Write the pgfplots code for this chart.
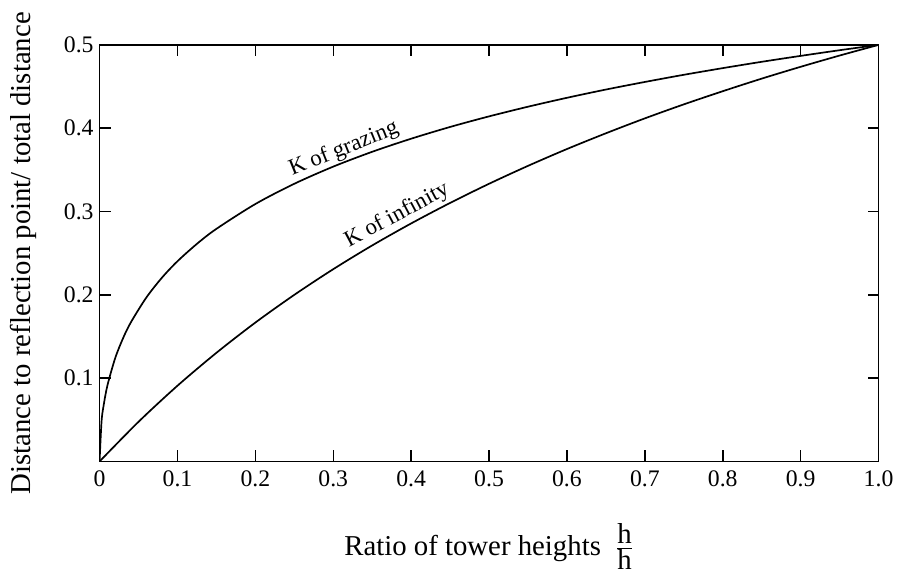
\documentclass[border=0pt]{standalone}
\usepackage{fontspec}
\setmainfont{Liberation Serif}
\usepackage{pgfplots}
\pgfplotsset{compat=1.18}
\begin{document}
\begin{tikzpicture}
\path (-58.8pt,-64.7pt) rectangle (469.4pt,272.5pt);
\begin{axis}[
  scale only axis, width=460pt, height=246pt,
  at={(0,0)}, anchor=south west,
  xmin=0, xmax=1, ymin=0, ymax=0.5,
  axis line style={line width=1pt},
  tick align=inside, major tick length=6.5pt,
  every tick/.style={line width=0.9pt, black},
  xtick={0,0.1,0.2,0.3,0.4,0.5,0.6,0.7,0.8,0.9,1.0},
  xticklabels={0,0.1,0.2,0.3,0.4,0.5,0.6,0.7,0.8,0.9,1.0},
  ytick={0.1,0.2,0.3,0.4,0.5},
  yticklabels={0.1,0.2,0.3,0.4,0.5},
  tick label style={font=\fontsize{14}{16}\selectfont},
  xticklabel style={yshift=-2pt},
  /pgf/number format/assume math mode=true,
  xlabel={Ratio of tower heights\ \ $\frac{\textrm{h}}{\textrm{h}}$},
  ylabel={Distance to reflection point/ total distance},
  label style={font=\fontsize{17}{20}\selectfont},
  xlabel style={yshift=-15pt},
  ylabel style={yshift=9pt},
]
% K of grazing
\addplot[black, line width=1pt, smooth] coordinates {
(0,0) (0.0025,0.0476) (0.005,0.0660) (0.01,0.0909) (0.02,0.1239) (0.03,0.1476)
(0.04,0.1667) (0.06,0.1967) (0.08,0.2205) (0.1,0.2403) (0.125,0.2612) (0.15,0.2792)
(0.2,0.3090) (0.25,0.3333) (0.3,0.3539) (0.35,0.3717) (0.4,0.3874) (0.45,0.4015)
(0.5,0.4142) (0.55,0.4258) (0.6,0.4365) (0.65,0.4464) (0.7,0.4555) (0.75,0.4641)
(0.8,0.4721) (0.85,0.4797) (0.9,0.4868) (0.95,0.4936) (1.0,0.5)
};
% K of infinity
\addplot[black, line width=1pt, smooth] coordinates {
(0,0) (0.05,0.0476) (0.1,0.0909) (0.15,0.1304) (0.2,0.1667) (0.25,0.2)
(0.3,0.2308) (0.35,0.2593) (0.4,0.2857) (0.45,0.3103) (0.5,0.3333) (0.55,0.3548)
(0.6,0.375) (0.65,0.3939) (0.7,0.4118) (0.75,0.4286) (0.8,0.4444) (0.85,0.4595)
(0.9,0.4737) (0.95,0.4872) (1.0,0.5)
};
\node[rotate=22, anchor=south, inner sep=1.5pt, font=\fontsize{13.5}{15}\selectfont] at (axis cs:0.32,0.360) {K of grazing};
\node[rotate=28, anchor=south, inner sep=1.5pt, font=\fontsize{13.5}{15}\selectfont] at (axis cs:0.39,0.281) {K of infinity};
\end{axis}
\end{tikzpicture}
\end{document}
